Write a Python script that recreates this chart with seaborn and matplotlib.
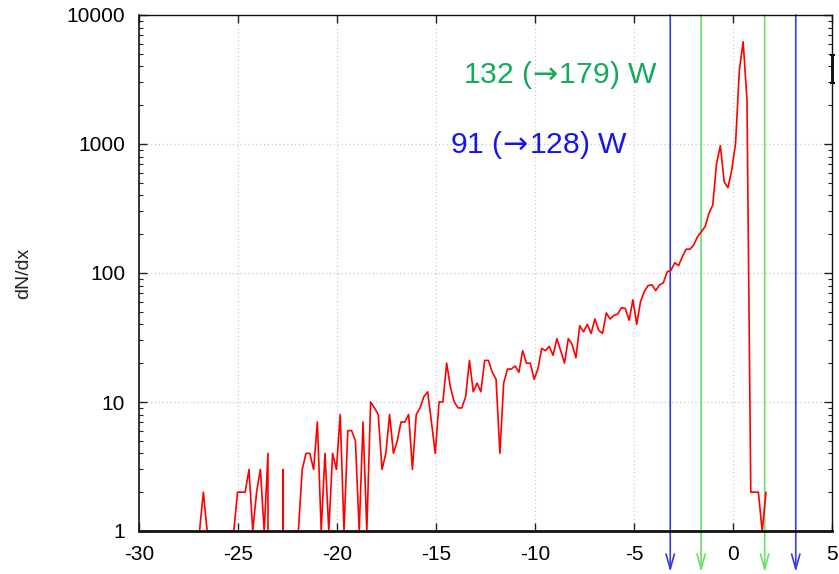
import numpy as np
import pandas as pd
import matplotlib
matplotlib.use("Agg")
import matplotlib.pyplot as plt
from matplotlib.ticker import LogLocator, NullFormatter, NullLocator
import seaborn as sns

# ---- data ----
X_START = -26.942          # centre of first bin
X_STEP = 0.192             # bin width
dndx = [
    1, 2, 1, 1, 1, 1, 1, 1, 1, 1, 2, 2, 2, 3, 1, 2, 3, 1, 4, 0,
    0, 0, 3, 0, 0, 1, 1, 3, 4, 4, 3, 7, 1, 4, 1, 4, 3, 8, 1, 6,
    6, 5, 1, 7, 1, 10, 9, 8, 3, 4, 8, 4, 5, 7, 7, 8, 3, 8, 9, 11,
    12, 7, 4, 10, 10, 20, 13, 10, 9, 9, 11, 21, 12, 14, 12, 21, 21, 17, 15, 4,
    14, 18, 18, 19, 17, 25, 20, 20, 15, 18, 26, 25, 27, 23, 31, 25, 20, 31, 28, 22,
    39, 35, 40, 34, 44, 36, 34, 49, 44, 47, 48, 54, 53, 43, 62, 40, 60, 72, 80, 81,
    73, 81, 84, 102, 105, 120, 114, 134, 153, 153, 165, 191, 209, 229, 290, 337, 708, 970, 510, 458,
    630, 1012, 3750, 6200, 2190, 2, 2, 2, 1, 2,
]
x_ticks = [-30, -25, -20, -15, -10, -5, 0, 5]
y_ticks = [1, 10, 100, 1000, 10000]
y_tick_labels = ["1", "10", "100", "1000", "10000"]
blue_cuts = [-3.17, 3.17]
green_cuts = [-1.61, 1.60]
label_green = "132 ($\\!\\rightarrow\\!$179) W"
label_blue = "91 ($\\!\\rightarrow\\!$128) W"
ylabel = "dN/dx"

# ---- style ----
sns.set_theme(style="ticks")
plt.rcParams["font.family"] = ["Liberation Sans", "DejaVu Sans"]
plt.rcParams["axes.unicode_minus"] = False
plt.rcParams["mathtext.fontset"] = "dejavusans"

fig = plt.figure(figsize=(8.39, 5.74), dpi=100)
ax = fig.add_axes([139 / 839, 43 / 574, 693 / 839, 516 / 574])

x = X_START + X_STEP * np.arange(len(dndx))
df = pd.DataFrame({"x": x, "dNdx": dndx})

# vertical cut arrows (behind the curve)
for xv in blue_cuts:
    ax.annotate("", xy=(xv, 0.48), xytext=(xv, 10000), xycoords="data",
                arrowprops=dict(arrowstyle="->,head_length=0.9,head_width=0.25",
                                color="#3b3bdc", lw=1.2, shrinkA=0, shrinkB=0),
                annotation_clip=False, zorder=1.8)
for xv in green_cuts:
    ax.annotate("", xy=(xv, 0.48), xytext=(xv, 10000), xycoords="data",
                arrowprops=dict(arrowstyle="->,head_length=0.9,head_width=0.25",
                                color="#66e066", lw=1.2, shrinkA=0, shrinkB=0),
                annotation_clip=False, zorder=1.8)

sns.lineplot(data=df, x="x", y="dNdx", ax=ax, color="#ff0000", linewidth=1.2,
             estimator=None, sort=False, zorder=2.2)

ax.set_yscale("log")
ax.set_xlim(-30, 5)
ax.set_ylim(1, 10000)

ax.set_xticks(x_ticks)
ax.set_xticklabels([str(t) for t in x_ticks])
ax.xaxis.set_minor_locator(NullLocator())
ax.set_yticks(y_ticks)
ax.set_yticklabels(y_tick_labels)
ax.yaxis.set_minor_locator(LogLocator(base=10, subs=range(2, 10)))
ax.yaxis.set_minor_formatter(NullFormatter())

ax.tick_params(which="both", direction="in", top=True, right=True,
               color="#222222", labelcolor="black")
ax.tick_params(which="major", length=6, width=1.0, pad=10, labelsize=15)
ax.tick_params(which="minor", length=3, width=0.8)

ax.grid(True, which="major", color="#c4c4c4", linestyle=(0, (1, 2.5)), linewidth=0.8)
ax.set_axisbelow(True)

for name, sp in ax.spines.items():
    sp.set_color("#111111")
    sp.set_linewidth(1.0)
    sp.set_zorder(3)
ax.spines["bottom"].set_linewidth(2.0)
ax.spines["left"].set_linewidth(1.2)

ax.set_xlabel("")
ax.set_ylabel(ylabel, fontsize=14, color="#222222")
ax.yaxis.set_label_coords(-0.154, 0.5)

ax.text(-13.64, 2957, label_green, color="#14aa5a", fontsize=21.7,
        ha="left", va="baseline", zorder=4)
ax.text(-14.30, 847, label_blue, color="#1414f0", fontsize=21.7,
        ha="left", va="baseline", zorder=4)

# partially visible key mark at the right edge
eb = ax.errorbar([5.0], [3800], yerr=[[830], [1100]], fmt="none", ecolor="black",
                 elinewidth=2.0, capsize=1.8, capthick=1.5)
for art in eb.lines[1] + tuple(eb.lines[2]):
    art.set_clip_on(False)

fig.savefig("out.png", dpi=100)
